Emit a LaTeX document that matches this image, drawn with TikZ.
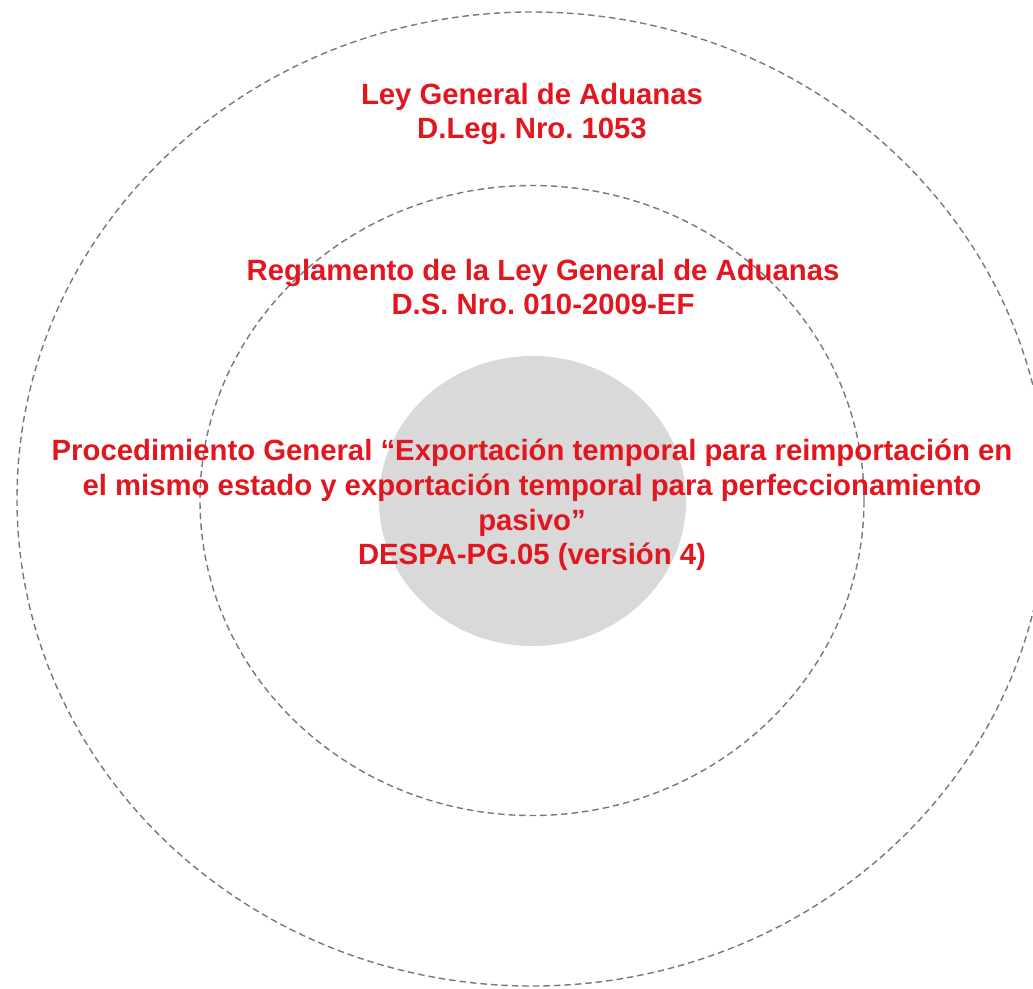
\documentclass[tikz,border=0pt]{standalone}
\usepackage{fontspec}
\setmainfont{Liberation Sans}
\usepackage{tikz}
\usetikzlibrary{positioning}
\frenchspacing
\definecolor{rojo}{RGB}{226,22,30}
\definecolor{gris}{RGB}{217,217,217}
\definecolor{borde}{RGB}{120,120,120}
\tikzstyle{anillo} = [draw=borde, line width=1.4pt, dash pattern=on 6.5pt off 4pt]
\tikzstyle{norma} = [text=rojo, align=center, inner sep=0pt,
    font=\fontsize{29.3}{34.8}\selectfont\bfseries]

\begin{document}
\begin{tikzpicture}[x=1pt,y=-1pt]
  \useasboundingbox (0,0) rectangle (1033,988);
  \clip (0,0) rectangle (1033,988);

  \fill[gris] (532.5,501) ellipse [x radius=153.5pt, y radius=145pt];
  \draw[anillo] (532,500.5) ellipse [x radius=332pt, y radius=315pt];
  \draw[anillo] (532,499) ellipse [x radius=515pt, y radius=487pt];

  \node[norma] (ley)    at (532,114)   {Ley General de Aduanas\\D.Leg. Nro. 1053};
  \node[norma] (regl)   at (543,287)   {Reglamento de la Ley General de Aduanas\\D.S. Nro. 010-2009-EF};
  \node[norma] (proced) at (532,505)   {Procedimiento General “Exportación temporal para reimportación en\\
    el mismo estado y exportación temporal para perfeccionamiento\\pasivo”\\DESPA-PG.05 (versión 4)};
\end{tikzpicture}
\end{document}
